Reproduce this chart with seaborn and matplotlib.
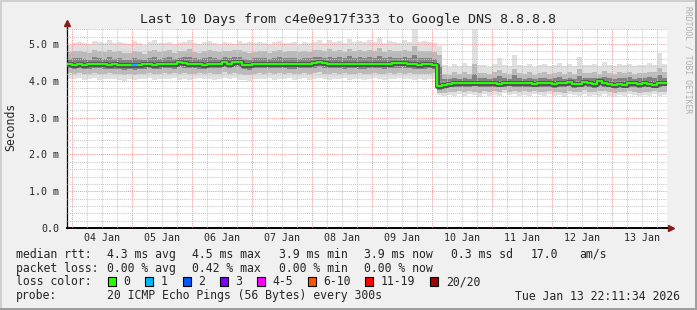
import matplotlib
matplotlib.use("Agg")
import numpy as np
import pandas as pd
import matplotlib.pyplot as plt
import matplotlib.dates as mdates
import matplotlib.transforms as mtransforms
from matplotlib.patches import Rectangle
import seaborn as sns

# ---------------- data ----------------
title = "Last 10 Days from c4e0e917f333 to Google DNS 8.8.8.8"
start_time = "2026-01-03 22:11:34"
end_time = "2026-01-13 22:11:34"
bin_hours = 2
day_labels = ["04 Jan", "05 Jan", "06 Jan", "07 Jan", "08 Jan",
              "09 Jan", "10 Jan", "11 Jan", "12 Jan", "13 Jan"]
y_ticks = [0, 1, 2, 3, 4, 5]
y_tick_labels = ["0.0", "1.0 m", "2.0 m", "3.0 m", "4.0 m", "5.0 m"]

# median rtt per 2-hour bin (ms)
median_ms = [
    4.46, 4.44, 4.45, 4.43, 4.45, 4.45, 4.46, 4.45, 4.44, 4.45,
    4.44, 4.42, 4.43, 4.42, 4.44, 4.45, 4.46, 4.44, 4.45, 4.47,
    4.47, 4.45, 4.50, 4.48, 4.46, 4.46, 4.45, 4.44, 4.47, 4.46,
    4.47, 4.50, 4.46, 4.52, 4.50, 4.44, 4.42, 4.46, 4.47, 4.46,
    4.46, 4.47, 4.47, 4.46, 4.45, 4.45, 4.46, 4.47, 4.46, 4.48,
    4.50, 4.49, 4.46, 4.47, 4.47, 4.45, 4.47, 4.46, 4.45, 4.45,
    4.46, 4.47, 4.47, 4.45, 4.47, 4.48, 4.48, 4.48, 4.47, 4.45,
    4.44, 4.45, 4.46, 4.44, 3.86,
    3.89, 3.92, 3.93, 3.93, 3.94, 3.93, 3.95, 3.94, 3.93, 3.94,
    3.93, 3.92, 3.93, 3.95, 3.93, 3.94, 3.93, 3.94, 3.92, 3.93,
    3.94, 3.93, 3.91, 3.93, 3.94, 3.96, 3.91, 3.92, 3.98, 3.94,
    3.91, 4.00, 3.94, 3.92, 3.88, 3.92, 3.90, 3.93, 3.93, 3.91,
    3.94, 3.92, 3.90, 3.94, 3.95,
]
# slowest ping per bin (ms)
max_ms = [
    4.98, 5.02, 5.06, 5.04, 5.00, 5.08, 5.05, 5.03, 5.10, 5.02,
    5.06, 5.04, 5.00, 5.08, 5.03, 4.98, 5.05, 5.10, 5.02, 5.04,
    5.07, 5.00, 5.03, 5.06, 5.12, 5.02, 4.99, 5.05, 5.08, 5.03,
    5.01, 5.06, 5.04, 5.00, 5.09, 5.03, 5.05, 5.02, 5.07, 5.04,
    5.00, 5.05, 5.08, 5.02, 5.04, 5.06, 5.01, 5.05, 5.03, 5.07,
    5.10, 5.04, 5.12, 5.06, 5.09, 5.03, 5.14, 5.05, 5.08, 5.06,
    5.11, 5.07, 5.16, 5.04, 5.09, 5.06, 5.03, 5.10, 5.07, 5.60,
    5.05, 5.08, 5.06, 5.02, 4.95,
    4.42, 4.38, 4.45, 4.40, 4.48, 4.40, 5.60, 4.44, 4.42, 4.39,
    4.46, 4.62, 4.43, 4.40, 4.70, 4.44, 4.41, 4.45, 4.38, 4.42,
    4.47, 4.40, 4.43, 4.48, 4.41, 4.45, 4.40, 4.65, 4.44, 4.42,
    4.46, 4.41, 4.50, 4.43, 4.40, 4.45, 4.42, 4.47, 4.41, 4.44,
    4.43, 4.48, 4.42, 4.75, 4.45,
]
# fastest ping per bin (ms)
min_ms = [
    4.06, 4.04, 4.08, 4.03, 4.05, 4.07, 4.02, 4.05, 4.06, 4.04,
    4.03, 4.00, 4.05, 4.02, 4.06, 4.04, 4.07, 4.03, 4.05, 4.06,
    4.04, 4.08, 4.03, 4.06, 4.02, 4.05, 4.07, 4.04, 4.06, 4.03,
    4.05, 4.08, 4.04, 4.07, 4.03, 4.01, 4.00, 4.04, 4.06, 4.05,
    4.07, 4.03, 4.06, 4.04, 4.08, 4.02, 4.05, 4.07, 4.03, 4.06,
    4.08, 4.05, 4.03, 4.06, 4.04, 4.07, 4.02, 4.05, 4.06, 4.03,
    4.05, 4.07, 4.04, 4.02, 4.06, 4.05, 4.08, 4.04, 4.06, 4.03,
    4.05, 4.02, 4.04, 4.06, 3.62,
    3.58, 3.62, 3.60, 3.65, 3.59, 3.63, 3.61, 3.57, 3.64, 3.60,
    3.62, 3.59, 3.66, 3.61, 3.63, 3.58, 3.62, 3.60, 3.65, 3.61,
    3.59, 3.63, 3.60, 3.62, 3.57, 3.64, 3.61, 3.59, 3.63, 3.60,
    3.62, 3.58, 3.65, 3.60, 3.56, 3.62, 3.59, 3.63, 3.61, 3.58,
    3.62, 3.60, 3.64, 3.59, 3.61,
]
# 90th percentile ping per bin (ms)
p90_ms = [
    4.78, 4.80, 4.82, 4.79, 4.76, 4.83, 4.80, 4.78, 4.85, 4.79,
    4.81, 4.77, 4.75, 4.82, 4.79, 4.74, 4.80, 4.84, 4.78, 4.80,
    4.83, 4.77, 4.80, 4.82, 4.86, 4.79, 4.76, 4.81, 4.83, 4.80,
    4.78, 4.82, 4.80, 4.84, 4.85, 4.78, 4.77, 4.79, 4.82, 4.80,
    4.77, 4.81, 4.83, 4.79, 4.80, 4.82, 4.78, 4.81, 4.79, 4.83,
    4.85, 4.80, 4.86, 4.82, 4.84, 4.79, 4.87, 4.81, 4.83, 4.80,
    4.84, 4.82, 4.88, 4.79, 4.83, 4.81, 4.80, 4.84, 4.82, 4.95,
    4.80, 4.82, 4.81, 4.78, 4.70,
    4.20, 4.17, 4.23, 4.19, 4.24, 4.18, 4.45, 4.22, 4.21, 4.18,
    4.23, 4.30, 4.21, 4.19, 4.33, 4.22, 4.19, 4.23, 4.17, 4.21,
    4.24, 4.19, 4.22, 4.25, 4.20, 4.23, 4.19, 4.32, 4.22, 4.21,
    4.24, 4.20, 4.26, 4.22, 4.18, 4.23, 4.21, 4.25, 4.20, 4.22,
    4.21, 4.25, 4.23, 4.35, 4.23,
]
# 75th percentile ping per bin (ms)
p75_ms = [
    4.60, 4.62, 4.63, 4.60, 4.58, 4.64, 4.61, 4.60, 4.65, 4.60,
    4.62, 4.58, 4.57, 4.63, 4.60, 4.57, 4.61, 4.64, 4.60, 4.62,
    4.64, 4.60, 4.63, 4.64, 4.66, 4.61, 4.59, 4.62, 4.64, 4.61,
    4.60, 4.64, 4.61, 4.66, 4.65, 4.59, 4.58, 4.61, 4.63, 4.61,
    4.59, 4.62, 4.64, 4.61, 4.61, 4.63, 4.60, 4.62, 4.61, 4.64,
    4.66, 4.62, 4.66, 4.63, 4.65, 4.61, 4.67, 4.62, 4.64, 4.61,
    4.64, 4.63, 4.67, 4.61, 4.64, 4.63, 4.62, 4.65, 4.63, 4.70,
    4.61, 4.63, 4.62, 4.60, 4.40,
    4.06, 4.04, 4.08, 4.06, 4.09, 4.05, 4.20, 4.08, 4.07, 4.05,
    4.08, 4.13, 4.07, 4.06, 4.15, 4.08, 4.06, 4.08, 4.05, 4.07,
    4.09, 4.06, 4.07, 4.10, 4.06, 4.08, 4.06, 4.14, 4.08, 4.07,
    4.09, 4.07, 4.10, 4.08, 4.05, 4.08, 4.07, 4.10, 4.06, 4.08,
    4.07, 4.10, 4.08, 4.15, 4.08,
]
# 25th percentile ping per bin (ms)
p25_ms = [
    4.34, 4.32, 4.34, 4.31, 4.33, 4.34, 4.34, 4.33, 4.32, 4.33,
    4.32, 4.30, 4.31, 4.30, 4.32, 4.33, 4.34, 4.32, 4.33, 4.35,
    4.35, 4.33, 4.37, 4.35, 4.34, 4.34, 4.33, 4.32, 4.35, 4.34,
    4.35, 4.37, 4.34, 4.39, 4.37, 4.32, 4.30, 4.34, 4.35, 4.34,
    4.34, 4.35, 4.35, 4.34, 4.33, 4.33, 4.34, 4.35, 4.34, 4.36,
    4.37, 4.36, 4.34, 4.35, 4.35, 4.33, 4.35, 4.34, 4.33, 4.33,
    4.34, 4.35, 4.35, 4.33, 4.35, 4.36, 4.36, 4.36, 4.35, 4.33,
    4.32, 4.33, 4.34, 4.32, 3.76,
    3.79, 3.82, 3.83, 3.83, 3.84, 3.83, 3.85, 3.84, 3.83, 3.84,
    3.83, 3.82, 3.83, 3.85, 3.83, 3.84, 3.83, 3.84, 3.82, 3.83,
    3.84, 3.83, 3.81, 3.83, 3.84, 3.86, 3.81, 3.82, 3.87, 3.84,
    3.81, 3.89, 3.84, 3.82, 3.78, 3.82, 3.80, 3.83, 3.83, 3.81,
    3.84, 3.82, 3.80, 3.84, 3.85,
]
# 10th percentile ping per bin (ms)
p10_ms = [
    4.21, 4.19, 4.22, 4.18, 4.20, 4.21, 4.19, 4.20, 4.21, 4.19,
    4.18, 4.16, 4.19, 4.17, 4.20, 4.19, 4.21, 4.18, 4.20, 4.21,
    4.20, 4.22, 4.19, 4.21, 4.18, 4.20, 4.21, 4.19, 4.21, 4.19,
    4.20, 4.23, 4.19, 4.22, 4.19, 4.17, 4.16, 4.19, 4.21, 4.20,
    4.21, 4.19, 4.21, 4.19, 4.22, 4.18, 4.20, 4.21, 4.19, 4.21,
    4.23, 4.20, 4.19, 4.21, 4.20, 4.21, 4.18, 4.20, 4.21, 4.19,
    4.20, 4.21, 4.20, 4.18, 4.21, 4.20, 4.22, 4.20, 4.21, 4.19,
    4.19, 4.18, 4.20, 4.21, 3.68,
    3.68, 3.71, 3.70, 3.73, 3.69, 3.72, 3.71, 3.68, 3.73, 3.70,
    3.72, 3.69, 3.74, 3.71, 3.72, 3.69, 3.72, 3.70, 3.73, 3.71,
    3.70, 3.72, 3.69, 3.71, 3.68, 3.73, 3.70, 3.69, 3.74, 3.70,
    3.71, 3.72, 3.73, 3.70, 3.67, 3.71, 3.69, 3.72, 3.71, 3.68,
    3.71, 3.70, 3.72, 3.69, 3.71,
]
# lost pings per bin
loss_pings = [
    0, 0, 0, 0, 0, 0, 0, 0, 0, 0,
    0, 0, 0, 1, 0, 0, 0, 0, 0, 0,
    0, 0, 0, 0, 0, 0, 0, 0, 0, 0,
    0, 0, 0, 0, 0, 0, 0, 0, 0, 0,
    0, 0, 0, 0, 0, 0, 0, 0, 0, 0,
    0, 0, 0, 0, 0, 0, 0, 0, 0, 0,
    0, 0, 0, 0, 0, 0, 0, 0, 0, 0,
    0, 0, 0, 0, 0,
    0, 0, 0, 0, 0, 0, 0, 0, 0, 0,
    0, 0, 0, 0, 0, 0, 0, 0, 0, 0,
    0, 0, 0, 0, 0, 0, 0, 0, 0, 0,
    0, 0, 0, 0, 0, 0, 0, 0, 0, 0,
    0, 0, 0, 0, 0,
]
loss_labels = ["0", "1", "2", "3", "4-5", "6-10", "11-19", "20/20"]
loss_colors = ["#26ff00", "#00b8ff", "#0059ff", "#7e00ff",
               "#ff00ff", "#ff5500", "#ff0000", "#a10000"]

stats_rows = [
    ("median rtt:", ["4.3 ms avg", "4.5 ms max", "3.9 ms min", "3.9 ms now",
                     "0.3 ms sd", "17.0", "am/s"]),
    ("packet loss:", ["0.00 % avg", "0.42 % max", "0.00 % min", "0.00 % now"]),
]
probe_text = "20 ICMP Echo Pings (56 Bytes) every 300s"
probe_label = "probe:"
loss_label = "loss color:"
timestamp = "Tue Jan 13 22:11:34 2026"
ylabel = "Seconds"
watermark = "RRDTOOL / TOBI OETIKER"

# ---------------- figure ----------------
W, H = 697, 310
sns.set_style("white")
plt.rcParams["font.family"] = ["DejaVu Sans Mono"]
MONO = "DejaVu Sans Mono"

fig = plt.figure(figsize=(W / 100, H / 100), dpi=100, facecolor="#f0f0f0")

def fx(px):
    return px / W

def fy(py):
    return 1 - py / H

ax = fig.add_axes([fx(67), fy(228), fx(600), 199 / H])
ax.set_facecolor("white")

nb = len(median_ms)
edges = pd.date_range(start_time, periods=nb + 1, freq=f"{bin_hours}h")
xe = mdates.date2num(edges.to_pydatetime())

def ext(v):
    return np.append(np.asarray(v, float), v[-1])

df = pd.DataFrame({"t": xe, "median": ext(median_ms)})

# smoke layers
ax.fill_between(xe, ext(min_ms), ext(max_ms), step="post", color="#e0e0e0", lw=0, zorder=1)
ax.fill_between(xe, ext(p10_ms), ext(p90_ms), step="post", color="#bababa", lw=0, zorder=1.1)
ax.fill_between(xe, ext(p25_ms), ext(p75_ms), step="post", color="#828282", lw=0, zorder=1.2)

# dark core around median then median line coloured by loss
sns.lineplot(data=df, x="t", y="median", drawstyle="steps-post", color="#545454",
             lw=3.6, ax=ax, zorder=3, estimator=None)
sns.lineplot(data=df, x="t", y="median", drawstyle="steps-post", color=loss_colors[0],
             lw=1.5, ax=ax, zorder=4, estimator=None)
for k, lp in enumerate(loss_pings):
    if lp > 0:
        ci = lp if lp < 4 else 4
        seg = pd.DataFrame({"t": [xe[k], xe[k + 1]], "median": [median_ms[k], median_ms[k]]})
        sns.lineplot(data=seg, x="t", y="median", color=loss_colors[ci], lw=1.5,
                     ax=ax, zorder=5, estimator=None)

# grids / ticks
midnights = pd.date_range("2026-01-04", "2026-01-13", freq="D")
sixh = pd.date_range("2026-01-04 00:00", "2026-01-13 18:00", freq="6h")
ax.set_xticks(mdates.date2num(midnights.to_pydatetime()))
ax.set_xticks(mdates.date2num(sixh.to_pydatetime()), minor=True)
ax.set_xticklabels([])
ax.set_yticks(y_ticks)
ax.set_yticklabels(y_tick_labels, fontfamily=MONO, fontsize=7.2)
ax.set_yticks(np.arange(0, 5.41, 0.2), minor=True)
ax.set_axisbelow(False)
ax.grid(which="major", color="#f49a9a", lw=0.75, ls=(0, (1, 1)), zorder=2)
ax.grid(which="minor", color="#c8c8c8", lw=0.75, ls=(0, (1, 1)), zorder=2)
ax.tick_params(axis="x", which="major", direction="out", length=2.5, width=0.8,
               color="#e06060")
ax.tick_params(axis="y", which="major", direction="out", length=2.5, width=0.8,
               color="black", pad=3)
ax.tick_params(which="minor", length=0)

# axes limits (after ticks so they are not widened)
x0 = mdates.date2num(pd.Timestamp(start_time))
x1 = mdates.date2num(pd.Timestamp(end_time))
ax.set_xlim(x0, x1)
ax.set_ylim(0, 5.41)
ax.set_xlabel("")
ax.set_ylabel("")

# day labels at noon
tr = mtransforms.blended_transform_factory(ax.transData, ax.transAxes)
noons = pd.date_range("2026-01-04 12:00", periods=len(day_labels), freq="D")
for d, lab in zip(mdates.date2num(noons.to_pydatetime()), day_labels):
    ax.text(d, -10 / 199, lab, transform=tr, ha="center", va="center",
            fontsize=7.2, fontfamily=MONO)

# spines and arrows
for s in ["top", "right"]:
    ax.spines[s].set_visible(False)
ax.spines["left"].set_color("black")
ax.spines["left"].set_linewidth(0.9)
ax.spines["bottom"].set_color("black")
ax.spines["bottom"].set_linewidth(1.4)
ax.plot([0, 0], [1, 1.025], transform=ax.transAxes, color="black", lw=0.9, clip_on=False)
ax.plot([1, 1.006], [0, 0], transform=ax.transAxes, color="black", lw=1.4, clip_on=False)
ax.plot([0], [1.03], transform=ax.transAxes, marker="^", ms=5, color="#8b1a1a",
        clip_on=False, lw=0)
ax.plot([1.007], [0], transform=ax.transAxes, marker=">", ms=5, color="#8b1a1a",
        clip_on=False, lw=0)

# title / labels
fig.text(fx(348), fy(19), title, ha="center", va="center", fontsize=9.6, fontfamily=MONO)
fig.text(fx(11), fy(127), ylabel, ha="center", va="center", rotation=90,
         fontsize=8.3, fontfamily=MONO)
fig.text(fx(688), fy(6), watermark, ha="center", va="top", rotation=270,
         fontsize=5.8, fontfamily=MONO, color="#b0b0b0")

# legend block
LF = 8.3
col_x = [106.7, 192.4, 279.1, 364.4, 451.1, 530.2, 579.1]
row_y = [254.3, 268.3]
for (lab, items), yy in zip(stats_rows, row_y):
    fig.text(fx(16), fy(yy), lab, ha="left", va="center", fontsize=LF, fontfamily=MONO)
    for it, xx in zip(items, col_x):
        fig.text(fx(xx), fy(yy), it, ha="left", va="center", fontsize=LF, fontfamily=MONO)

ly = 281.7
fig.text(fx(16), fy(ly), loss_label, ha="left", va="center", fontsize=LF, fontfamily=MONO)
box_x = [108, 145.3, 182.7, 220, 256.9, 307.6, 365.3, 430.2]
for bx, lab, col in zip(box_x, loss_labels, loss_colors):
    fig.patches.append(Rectangle((fx(bx), fy(ly + 4.5)), fx(8), 9 / H,
                                 transform=fig.transFigure, facecolor=col,
                                 edgecolor="black", lw=0.8))
    fig.text(fx(bx + 15.6), fy(ly), lab, ha="left", va="center", fontsize=LF,
             fontfamily=MONO)

py = 296
fig.text(fx(16), fy(py), probe_label, ha="left", va="center", fontsize=LF, fontfamily=MONO)
fig.text(fx(106.7), fy(py), probe_text, ha="left", va="center", fontsize=LF, fontfamily=MONO)
fig.text(fx(680), fy(py), timestamp, ha="right", va="center", fontsize=LF, fontfamily=MONO)

# 3D frame
fig.patches.append(Rectangle((0, fy(2)), 1, 2 / H, transform=fig.transFigure,
                             facecolor="#cfcfcf", lw=0))
fig.patches.append(Rectangle((0, 0), fx(2), 1, transform=fig.transFigure,
                             facecolor="#cfcfcf", lw=0))
fig.patches.append(Rectangle((0, 0), 1, 2 / H, transform=fig.transFigure,
                             facecolor="#9e9e9e", lw=0))
fig.patches.append(Rectangle((fx(W - 2), 0), fx(2), 1, transform=fig.transFigure,
                             facecolor="#9e9e9e", lw=0))

fig.savefig("out.png", dpi=100, facecolor=fig.get_facecolor())
